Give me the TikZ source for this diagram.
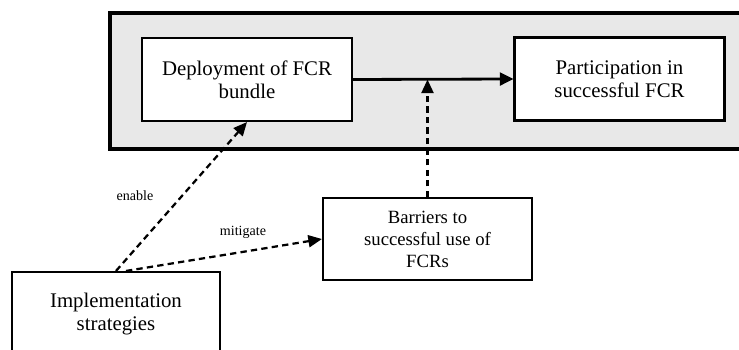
\documentclass[tikz,border=0pt]{standalone}
\usepackage{fontspec}
\setmainfont{Liberation Serif}
\usetikzlibrary{arrows.meta}
\begin{document}
\begin{tikzpicture}[
    box/.style={draw, line width=1.5pt, fill=white, minimum width=5.25cm, minimum height=2.075cm, align=center, font=\fontsize{14.8}{16.5}\selectfont},
    dasharrow/.style={line width=1.6pt, dash pattern=on 4.5pt off 3pt, -{Triangle[length=3.4mm,width=3mm]}},
    lbl/.style={font=\fontsize{10}{12}\selectfont}]
      \useasboundingbox (0,0) rectangle (18.475,8.75);
      \clip (0,0) rectangle (18.475,8.75);
      \draw[line width=2.6pt, fill=black!9] (2.75,5.025) rectangle (19,8.425);
      \node[box] (deploy) at (6.175,6.7625) {Deployment of FCR\\bundle};
      \node[box] (partic) at (15.4875,6.775) {Participation in\\successful FCR};
      \node[box, font=\fontsize{13.3}{15.6}\selectfont, minimum width=5.225cm, minimum height=2.05cm] (barrier) at (10.6875,2.775) {Barriers to\\successful use of\\FCRs};
      \node[box, minimum width=5.2cm, minimum height=2.1cm] (impl) at (2.9,0.9) {Implementation\\strategies};
      \coordinate (join) at (barrier.north |- deploy.east);
      \draw[line width=2pt, -{Triangle[length=3.4mm,width=3.2mm]}] (deploy.east) -- (partic.west);
      \draw[dasharrow] (barrier.north) -- (join);
      \draw[dasharrow] (impl.north) -- (deploy.south);
      \draw[dasharrow] ([xshift=0.25cm]impl.north) -- (barrier.west);
      \node[lbl] (enable) at (3.375,3.85) {enable};
      \node[lbl] (mitigate) at (6.075,2.95) {mitigate};
\end{tikzpicture}
\end{document}
